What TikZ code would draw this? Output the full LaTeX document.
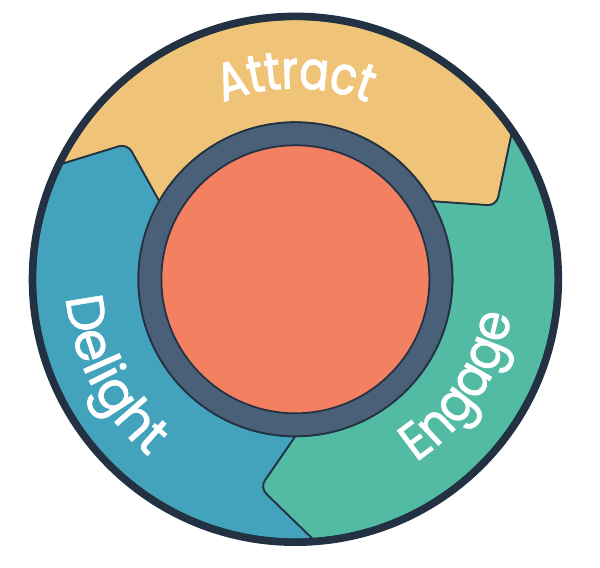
\documentclass[tikz,border=0pt]{standalone}
\usepackage{fontspec}
\setmainfont{Poppins}
\newfontfamily\attractfont[FakeStretch=0.82,FakeBold=2.2]{Poppins}
\newfontfamily\delightfont[FakeBold=1.2]{Poppins}
\newfontfamily\engagefont[FakeStretch=0.9,FakeBold=1.2]{Poppins}
\usetikzlibrary{decorations.text}
\definecolor{attractcol}{HTML}{EFC478}
\definecolor{delightcol}{HTML}{43A2BC}
\definecolor{engagecol}{HTML}{53BAA4}
\definecolor{hubcol}{HTML}{F48062}
\definecolor{ringcol}{HTML}{4A5F78}
\definecolor{edgecol}{HTML}{233243}
\tikzset{
  segment/.style={draw=edgecol,line width=1pt,line join=round},
  wordpath/.style 2 args={decorate,decoration={text along path,text align=center,text color=white,text={|#1\fontsize{30}{30}\selectfont|#2}}}
}
\begin{document}
\begin{tikzpicture}[scale=0.02]
      \useasboundingbox (-295.4,279.3) rectangle (304.6,-288.7);
      \coordinate (attractout) at (153.6:260);
      \coordinate (engageout) at (33.8:260);
      \coordinate (delightout) at (273.8:260);
      \coordinate (delighttip) at (-168,135.5);
      \coordinate (attracttip) at (201,73.5);
      \coordinate (engagetip) at (-35.4,-208.3);
      \coordinate (leftfoot) at (150.2:157);
      \coordinate (rightfoot) at (29.8:157);
      \coordinate (lowfoot) at (270:157);
      \draw [segment,fill=attractcol] (attractout) arc [start angle=153.6,end angle=33.8,radius=260]
        [rounded corners=5pt] -- (attracttip) [sharp corners] -- (rightfoot)
        arc [start angle=29.8,end angle=150.2,radius=157]
        [rounded corners=5pt] -- (delighttip) [sharp corners] -- cycle;
      \draw [segment,fill=delightcol] (attractout) arc [start angle=153.6,end angle=273.8,radius=260]
        [rounded corners=5pt] -- (engagetip) [sharp corners] -- (lowfoot)
        arc [start angle=270,end angle=150.2,radius=157]
        [rounded corners=5pt] -- (delighttip) [sharp corners] -- cycle;
      \draw [segment,fill=engagecol] (delightout) arc [start angle=273.8,end angle=393.8,radius=260]
        [rounded corners=5pt] -- (attracttip) [sharp corners] -- (rightfoot)
        arc [start angle=29.8,end angle=-90,radius=157]
        [rounded corners=5pt] -- (engagetip) [sharp corners] -- cycle;
      \draw [segment,fill=ringcol] (0,0) circle [radius=157];
      \draw [segment,fill=hubcol] (0,0) circle [radius=134];
      \draw [edgecol,line width=4.2pt] (0,0) circle [radius=263];
      \path [wordpath={\attractfont}{Attract}] (132:191) arc [start angle=132,end angle=48,radius=191];
      \path [wordpath={\delightfont}{Delight}] (165:230) arc [start angle=165,end angle=250,radius=230];
      \path [wordpath={\engagefont}{Engage}] (-79:219) arc [start angle=-79,end angle=13,radius=219];
    \end{tikzpicture}
\end{document}
